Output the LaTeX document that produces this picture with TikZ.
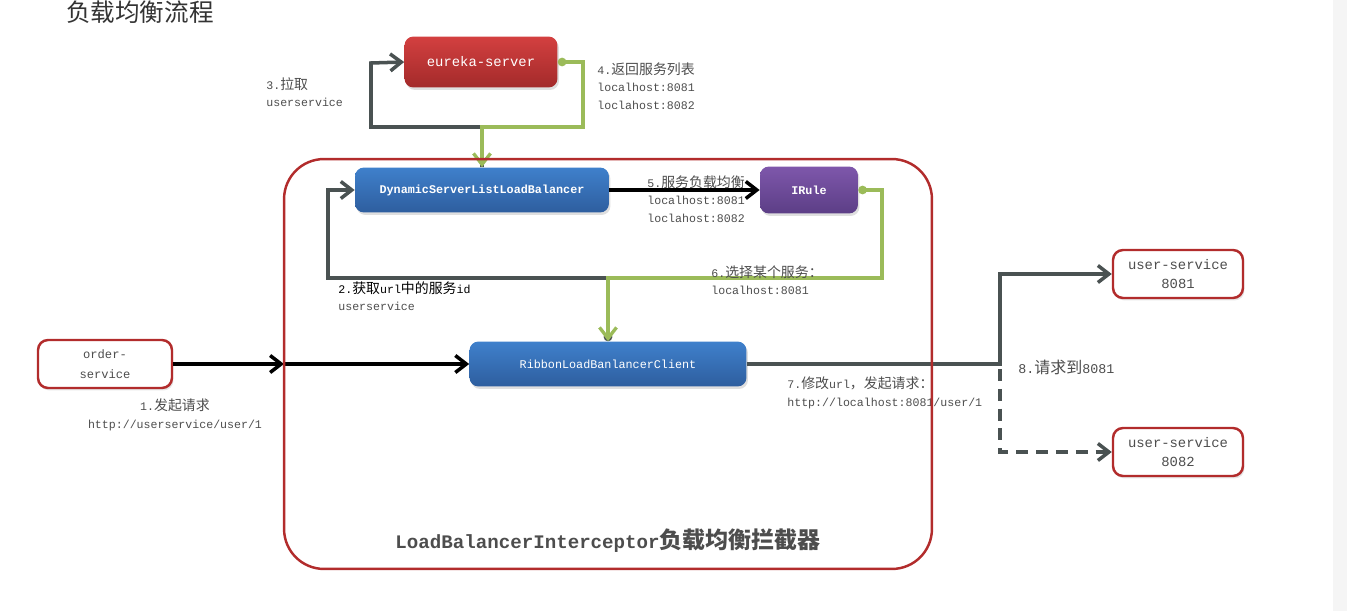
\documentclass[tikz,border=0pt]{standalone}
\usepackage{fontspec}
\setmainfont{Liberation Mono}
\newfontfamily\cjk[Scale=1.2]{Noto Sans CJK SC}
\newfontfamily\cjktitle{Noto Sans CJK SC}
\usetikzlibrary{arrows.meta,shadows}
\definecolor{linegray}{HTML}{4A5252}
\definecolor{linegreen}{HTML}{9BBB59}
\definecolor{boxred}{HTML}{B22C2C}
\definecolor{txtgray}{HTML}{4D4D4D}
\definecolor{redtop}{HTML}{D34040}
\definecolor{redbot}{HTML}{A32A2A}
\definecolor{bluetop}{HTML}{3F80CC}
\definecolor{bluebot}{HTML}{2E5E9E}
\definecolor{purpletop}{HTML}{7E57AB}
\definecolor{purplebot}{HTML}{5C3E86}
\newcommand\zh[1]{{\cjk #1}}

\begin{document}
\begin{tikzpicture}[x=0.02cm,y=-0.02cm,>={Straight Barb[length=2.2mm,width=3.4mm]},
  fillbox/.style={rounded corners=0.18cm,text=white,inner sep=0pt,
    drop shadow={opacity=0.25,shadow xshift=0.03cm,shadow yshift=-0.05cm}},
  redbox/.style={fillbox,top color=redtop,bottom color=redbot},
  bluebox/.style={fillbox,top color=bluetop,bottom color=bluebot},
  purplebox/.style={fillbox,top color=purpletop,bottom color=purplebot},
  svcbox/.style={draw=boxred,line width=1.4pt,rounded corners=0.2cm,fill=white,text=txtgray,
    align=center,minimum width=2.6cm,minimum height=0.96cm,inner sep=0pt,
    drop shadow={opacity=0.2,shadow xshift=0.03cm,shadow yshift=-0.05cm}},
  lbl/.style={text=txtgray,align=left,anchor=west,inner sep=0pt,font=\fontsize{6.6}{9.9}\selectfont},
  conn/.style={line width=2pt,draw=linegray},
  greenconn/.style={line width=1.9pt,draw=linegreen}]
\useasboundingbox (0,0) rectangle (1347,611);
\fill[gray!8] (1333,0) rectangle (1347,611);

% title
\node[font=\cjktitle\fontsize{14}{16}\selectfont,text=black!80] (title) at (140,12) {负载均衡流程};

% boxes
\node[redbox,minimum width=3.06cm,minimum height=1.02cm,font=\fontsize{7.9}{9}\selectfont] (eureka) at (481,62) {eureka-server};
\node[bluebox,minimum width=5.08cm,minimum height=0.9cm,font=\bfseries\fontsize{6.7}{8}\selectfont] (dyn) at (482,190) {DynamicServerListLoadBalancer};
\node[purplebox,minimum width=1.96cm,minimum height=0.94cm,font=\bfseries\fontsize{6.7}{8}\selectfont] (irule) at (809,190) {IRule};
\node[bluebox,minimum width=5.54cm,minimum height=0.9cm,font=\fontsize{6.7}{8}\selectfont] (ribbon) at (608,364) {RibbonLoadBanlancerClient};
\node[svcbox,minimum width=2.68cm,font=\fontsize{6.9}{11.3}\selectfont] (order) at (105,364) {order-\\service};
\node[svcbox,font=\fontsize{7.9}{11.3}\selectfont] (user1) at (1178,274) {user-service\\8081};
\node[svcbox,font=\fontsize{7.9}{11.3}\selectfont] (user2) at (1178,452) {user-service\\8082};
\coordinate (in) at (284,364);

% connectors
\draw[line width=2pt,->] (order.east) -- (in);
\draw[line width=2pt,->] (in) -- (ribbon.west);
\draw[conn,{Circle[length=1.7mm]}->] (ribbon.north) -- (608,278) -| (328,190) -- (dyn.west);
\draw[conn,->] (dyn.north) -- (482,127) -| (371,63) -- (eureka.west);
\draw[greenconn,{Circle[length=1.7mm]}->] (eureka.east) -| (583,127) -| (dyn.north);
\draw[line width=2pt,->] (dyn.east) -- (irule.west);
\draw[greenconn,{Circle[length=1.7mm]}->] (irule.east) -| (882,278) -| (ribbon.north);
\draw[conn,dash pattern=on 6.8pt off 4.5pt,->] (ribbon.east) -- (1000,364) |- (user2.west);
\draw[conn,->] (ribbon.east) -- (1000,364) |- (user1.west);

% labels
\node[lbl] (l3) at (266,92) {3.\zh{拉取}\\userservice};
\node[lbl] (l4) at (597,86) {4.\zh{返回服务列表}\\localhost:8081\\loclahost:8082};
\node[lbl] (l5) at (647,199) {5.\zh{服务负载均衡}\\localhost:8081\\loclahost:8082};
\node[lbl] (l6) at (711,280) {6.\zh{选择某个服务：}\\localhost:8081};
\node[lbl] (l2) at (338,296) {\textcolor{black}{2.\zh{获取}url\zh{中的服务}id}\\userservice};
\node[lbl,anchor=center,align=center] (l1) at (175,415) {1.\zh{发起请求}\\http://userservice/user/1};
\node[lbl] (l7) at (787,393) {7.\zh{修改}url\zh{，发起请求：}\\http://localhost:8081/user/1};
\node[lbl,font=\fontsize{7.6}{9}\selectfont] (l8) at (1018,367) {8.\zh{请求到}8081};

% interceptor frame
\node[draw=boxred,line width=1.4pt,rounded corners=0.8cm,minimum width=12.96cm,minimum height=8.2cm] (lbi) at (608,364) {};
\node[text=txtgray,font=\bfseries\fontsize{10.9}{12}\selectfont] (lbititle) at (608,541) {LoadBalancerInterceptor\zh{负载均衡拦截器}};
\end{tikzpicture}
\end{document}
